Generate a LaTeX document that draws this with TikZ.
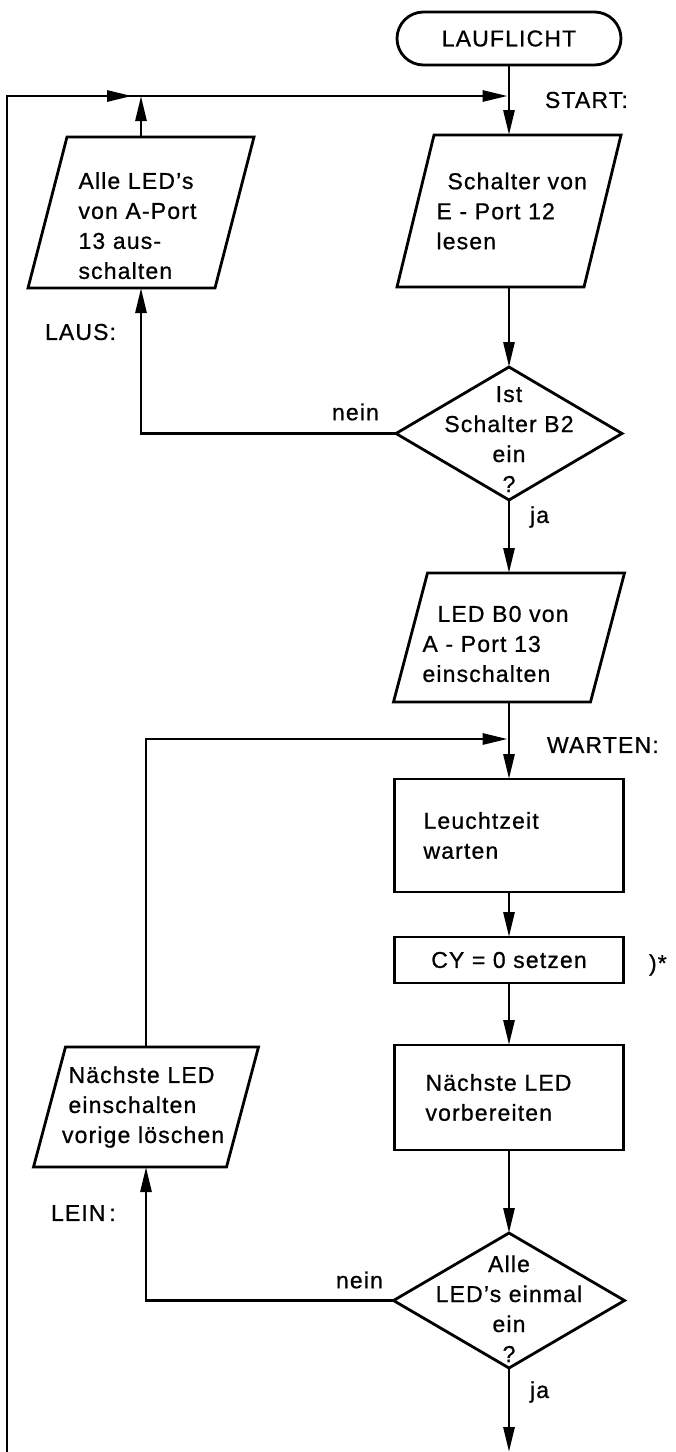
\documentclass[tikz,border=0pt]{standalone}
\usepackage{fontspec}
\setmainfont{Liberation Sans}[LetterSpace=5, FakeBold=0.8]
\usetikzlibrary{arrows.meta}
\newcommand\paraoutline[2]{\draw[box] ([xshift=#2]#1.north west) -- ([xshift=#2]#1.north east) -- ([xshift=-#2]#1.south east) -- ([xshift=-#2]#1.south west) -- cycle;}
\newcommand\diamondoutline[1]{\draw[box] (#1.north) -- (#1.east) -- (#1.south) -- (#1.west) -- cycle;}
\begin{document}
\begin{tikzpicture}[x=1pt,y=-1pt,
  every node/.style={font=\fontsize{23}{30}\selectfont, outer sep=0pt},
  line/.style={line width=2.8pt},
  arr/.style={line width=2.8pt, -{Triangle[length=25pt,width=11pt]}},
  box/.style={line width=2.8pt, line join=miter},
  txt/.style={inner sep=0pt, anchor=west},
  para/.style={inner ysep=0pt, align=left},
  proc/.style={draw, line width=2.8pt, inner ysep=0pt, align=left, minimum width=229pt},
  dec/.style={inner sep=0pt, align=center},
]
\useasboundingbox (0,0) rectangle (676,1452);

% terminal
\node[draw, line width=2.8pt, rounded corners=26.5pt, minimum width=224pt, minimum height=53pt, inner sep=0pt] (term) at (509,38.5) {LAUFLICHT};

% input/output boxes
\node[para, minimum width=187pt, minimum height=152pt, text width=145pt, inner xsep=21pt] (sch) at (509,211)
  {\mbox{\hspace*{11pt}Schalter von}\\\mbox{E - Port 12}\\lesen};
\paraoutline{sch}{18.5pt}

\node[para, minimum width=187pt, minimum height=151pt, text width=125pt, inner xsep=31pt] (alle) at (141,212.5)
  {\mbox{\rule{0pt}{43pt}Alle LED's}\\\mbox{von A-Port}\\\mbox{13 aus-}\\schalten};
\paraoutline{alle}{19.5pt}

\node[para, minimum width=197pt, minimum height=129pt, text width=173pt, inner xsep=12pt] (led) at (509,637.5)
  {\mbox{\rule{0pt}{29pt}\hspace*{15pt}LED B0 von}\\\mbox{A - Port 13}\\einschalten};
\paraoutline{led}{17pt}

\node[para, minimum width=193pt, minimum height=120pt, text width=168pt, inner xsep=12.5pt] (lein) at (146,1107)
  {\mbox{\hspace*{6.5pt}Nächste LED}\\\mbox{\hspace*{6.5pt}einschalten}\\\mbox{vorige löschen}};
\paraoutline{lein}{16pt}

% process boxes
\node[proc, minimum height=113pt, text width=171pt, inner xsep=29pt] (leucht) at (509,835.5) {Leuchtzeit\\warten};
\node[draw, line width=2.8pt, inner sep=0pt, minimum width=229pt, minimum height=46pt] (cy) at (509,960) {CY = 0 setzen};
\node[proc, minimum height=105pt, text width=167pt, inner xsep=31pt] (naechste) at (509,1097.5) {\mbox{Nächste LED}\\vorbereiten};

% decisions
\node[dec, minimum width=226pt, minimum height=133pt] (d1) at (509,433.5) {\rule{0pt}{27pt}Ist\\Schalter B2\\ein\\?};
\diamondoutline{d1}
\node[dec, minimum width=231pt, minimum height=135pt] (d2) at (509,1300.5) {\rule{0pt}{33pt}Alle\\LED's einmal\\ein\\?};
\diamondoutline{d2}

% labels
\node[txt] (lstart) at (545,100) {START:};
\node[txt] (llaus) at (45,332) {LAUS:};
\node[txt] (lnein1) at (332,412) {nein};
\node[txt] (lja1) at (530,517) {ja};
\node[txt] (lwarten) at (547,745) {WARTEN:};
\node[txt] (lstar) at (649,965) {)*};
\node[txt] (llein) at (51,1213) {LEIN\,:};
\node[txt] (lnein2) at (336,1280) {nein};
\node[txt] (lja2) at (530,1392) {ja};

% junction coordinates
\coordinate (jmain) at (509,96);
\coordinate (jtop) at (alle.north |- jmain);
\coordinate (jwait) at (509,739);
\coordinate (loopbot) at (7,1452);
\coordinate (endpt) at (509,1452);

% connectors
\draw[arr] (term.south) -- (sch.north);
\draw[arr, shorten >=1.4pt] (jtop) -- (jmain);
\draw[arr] (alle.north) -- (jtop);
\draw[line, line join=miter] (loopbot) |- (jtop);
\draw[arr] (loopbot |- jtop) -- ([xshift=-9pt]jtop);
\draw[arr] (sch.south) -- (d1.north);
\draw[arr] (d1.west) -| (alle.south);
\draw[arr] (d1.south) -- (led.north);
\draw[arr] (led.south) -- (leucht.north);
\draw[arr, shorten >=1.4pt] (lein.north) |- (jwait);
\draw[arr] (leucht.south) -- (cy.north);
\draw[arr] (cy.south) -- (naechste.north);
\draw[arr] (naechste.south) -- (d2.north);
\draw[arr] (d2.west) -| (lein.south);
\draw[arr] (d2.south) -- (endpt);
\end{tikzpicture}
\end{document}
